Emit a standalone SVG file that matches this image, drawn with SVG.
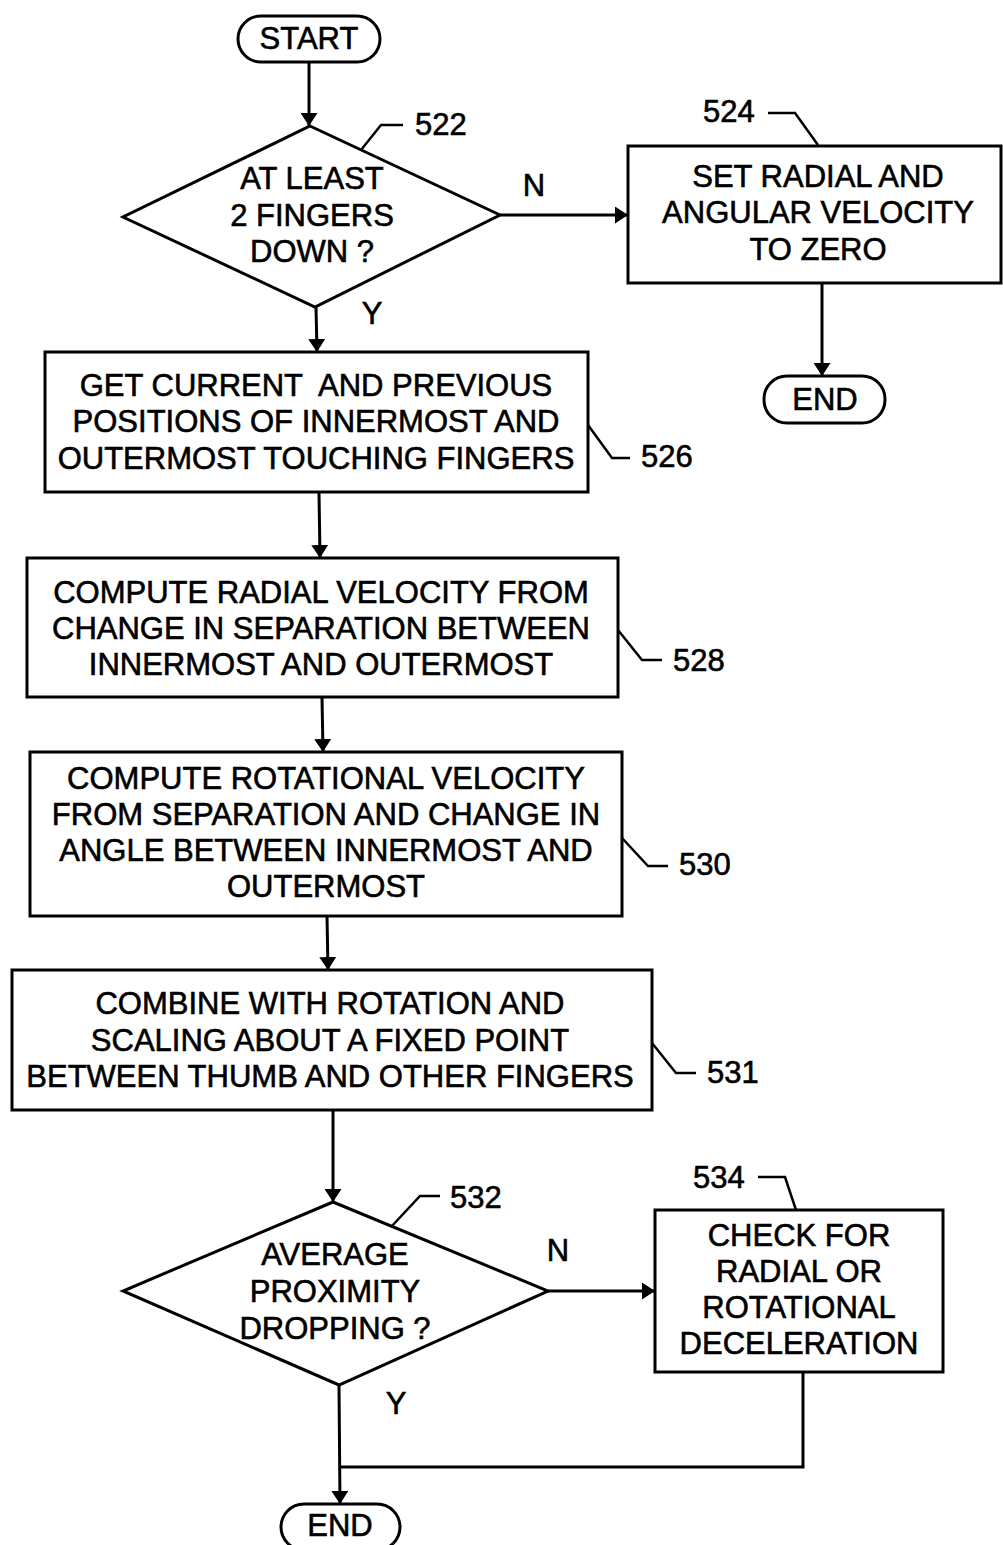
<svg xmlns="http://www.w3.org/2000/svg" width="1003" height="1545" viewBox="0 0 1003 1545">
<style>
.s{fill:#fff;stroke:#000;stroke-width:3}
.c{fill:none;stroke:#000;stroke-width:3}
.l{fill:none;stroke:#000;stroke-width:2.5}
text{font-family:"Liberation Sans",Arial,sans-serif;font-size:31px;fill:#000;stroke:#000;stroke-width:0.6;text-anchor:middle}
.n{text-anchor:start}
</style>
<defs>
<marker id="a" viewBox="0 0 13 17" refX="13" refY="8.5" markerWidth="13" markerHeight="17" orient="auto" markerUnits="userSpaceOnUse">
<path d="M0,0 L13,8.5 L0,17 z" fill="#000"/>
</marker>
</defs>
<g id="connectors">
<path class="c" d="M309,62 L309,126" marker-end="url(#a)"/>
<path class="c" d="M500,215 L628,215" marker-end="url(#a)"/>
<path class="c" d="M822,283 L822,376" marker-end="url(#a)"/>
<path class="c" d="M316,307 L317,352" marker-end="url(#a)"/>
<path class="c" d="M319,492 L320,558" marker-end="url(#a)"/>
<path class="c" d="M322,697 L323,752" marker-end="url(#a)"/>
<path class="c" d="M327,916 L328,970" marker-end="url(#a)"/>
<path class="c" d="M333,1110 L333,1202" marker-end="url(#a)"/>
<path class="c" d="M548,1291 L655,1291" marker-end="url(#a)"/>
<path class="c" d="M339,1385 L340,1504" marker-end="url(#a)"/>
<path class="c" d="M803,1372 L803,1467 L340,1467"/>
<text x="534" y="196">N</text>
<text x="372" y="324">Y</text>
<text x="558" y="1261">N</text>
<text x="396" y="1414">Y</text>
</g>
<g id="start">
<rect class="s" x="238" y="16" width="142" height="46" rx="23"/>
<text x="309" y="49">START</text>
</g>
<g id="n522">
<path class="s" d="M310,126 L500,215 L315,307 L123,217 z"/>
<text x="312" y="189">AT LEAST</text>
<text x="312" y="226">2 FINGERS</text>
<text x="312" y="262">DOWN ?</text>
<path class="l" d="M361,150 L381,125 L403,125"/>
<text class="n" x="415" y="135">522</text>
</g>
<g id="n524">
<rect class="s" x="628" y="146" width="373" height="137"/>
<text x="818" y="187">SET RADIAL AND</text>
<text x="818" y="223">ANGULAR VELOCITY</text>
<text x="818" y="260">TO ZERO</text>
<path class="l" d="M768,113 L795,113 L818,145"/>
<text class="n" x="703" y="122">524</text>
</g>
<g id="end1">
<rect class="s" x="764" y="376" width="121" height="47" rx="23"/>
<text x="825" y="410">END</text>
</g>
<g id="n526">
<rect class="s" x="45" y="352" width="543" height="140"/>
<text x="316" y="396" xml:space="preserve">GET CURRENT  AND PREVIOUS</text>
<text x="316" y="432">POSITIONS OF INNERMOST AND</text>
<text x="316" y="469">OUTERMOST TOUCHING FINGERS</text>
<path class="l" d="M588,425 L612,458 L630,458"/>
<text class="n" x="641" y="467">526</text>
</g>
<g id="n528">
<rect class="s" x="27" y="558" width="591" height="139"/>
<text x="321" y="603">COMPUTE RADIAL VELOCITY FROM</text>
<text x="321" y="639">CHANGE IN SEPARATION BETWEEN</text>
<text x="321" y="675">INNERMOST AND OUTERMOST</text>
<path class="l" d="M618,630 L642,660 L662,660"/>
<text class="n" x="673" y="671">528</text>
</g>
<g id="n530">
<rect class="s" x="30" y="752" width="592" height="164"/>
<text x="326" y="789">COMPUTE ROTATIONAL VELOCITY</text>
<text x="326" y="825">FROM SEPARATION AND CHANGE IN</text>
<text x="326" y="861">ANGLE BETWEEN INNERMOST AND</text>
<text x="326" y="897">OUTERMOST</text>
<path class="l" d="M622,838 L648,866 L668,866"/>
<text class="n" x="679" y="875">530</text>
</g>
<g id="n531">
<rect class="s" x="12" y="970" width="640" height="140"/>
<text x="330" y="1014">COMBINE WITH ROTATION AND</text>
<text x="330" y="1051">SCALING ABOUT A FIXED POINT</text>
<text x="330" y="1087">BETWEEN THUMB AND OTHER FINGERS</text>
<path class="l" d="M652,1043 L676,1073 L696,1073"/>
<text class="n" x="707" y="1083">531</text>
</g>
<g id="n532">
<path class="s" d="M333,1202 L548,1291 L339,1385 L123,1291 z"/>
<text x="335" y="1265">AVERAGE</text>
<text x="335" y="1302">PROXIMITY</text>
<text x="335" y="1339">DROPPING ?</text>
<path class="l" d="M391,1227 L420,1196 L440,1196"/>
<text class="n" x="450" y="1208">532</text>
</g>
<g id="n534">
<rect class="s" x="655" y="1210" width="288" height="162"/>
<text x="799" y="1246">CHECK FOR</text>
<text x="799" y="1282">RADIAL OR</text>
<text x="799" y="1318">ROTATIONAL</text>
<text x="799" y="1354">DECELERATION</text>
<path class="l" d="M758,1177 L785,1177 L796,1210"/>
<text class="n" x="693" y="1188">534</text>
</g>
<g id="end2">
<rect class="s" x="281" y="1504" width="119" height="46" rx="23"/>
<text x="340" y="1536">END</text>
</g>
</svg>
